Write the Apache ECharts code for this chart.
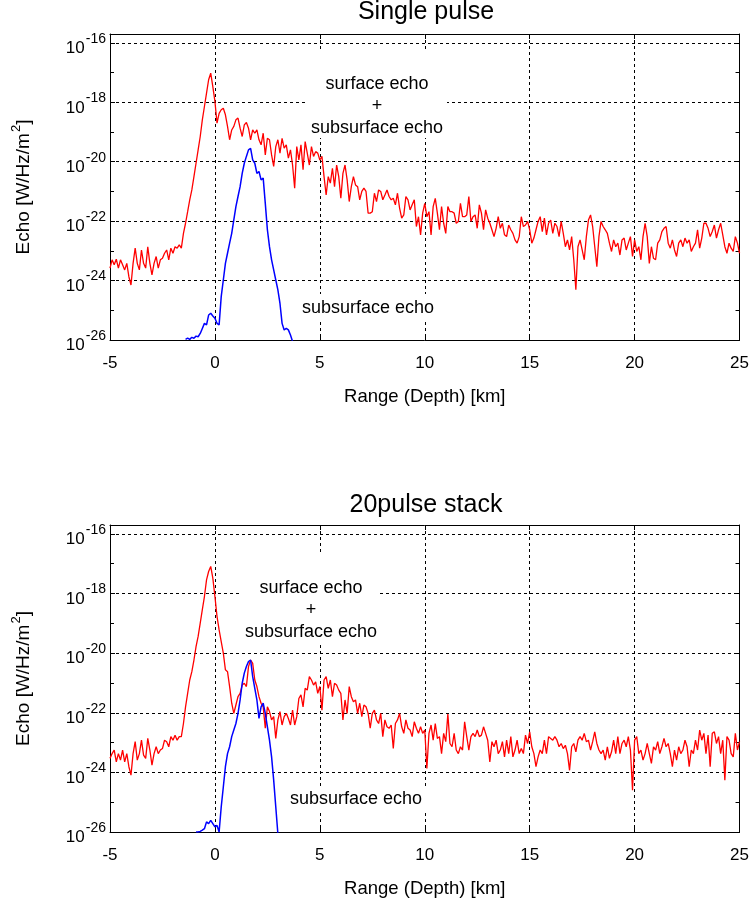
<!DOCTYPE html>
<html>
<head>
<meta charset="utf-8">
<script src="https://cdn.jsdelivr.net/npm/echarts@6/dist/echarts.min.js"></script>
<style>
html,body{margin:0;padding:0;background:#fff;}
#chart{width:752px;height:900px;}
</style>
</head>
<body>
<div id="chart"></div>
<script>
// Echo power, stored as log10 of W/Hz/m^2, sampled every 0.1 km of range
const stepKm = 0.1;
const redStartKm = -5.0;
const blue1StartKm = -1.4;
const blue2StartKm = -0.9;

const xTicks = [-5, 0, 5, 10, 15, 20, 25];
const yExpTicks = [-26, -24, -22, -20, -18, -16];

const titles = ['Single pulse', '20pulse stack'];
const xName = 'Range (Depth) [km]';

// Single pulse: surface + subsurface echo (red)
const singleTotal = [
-23.58,-23.30,-23.47,-23.28,-23.58,-23.30,-23.47,-23.64,-23.42,-23.87,
-24.15,-23.42,-22.91,-23.42,-23.64,-22.97,-23.42,-23.58,-22.86,-23.42,
-23.81,-23.42,-23.19,-23.58,-23.30,-23.25,-23.08,-22.97,-23.30,-22.91,
-23.08,-22.86,-22.91,-22.80,-22.91,-22.41,-22.07,-21.68,-21.28,-20.95,
-20.50,-20.05,-19.60,-19.15,-18.59,-18.14,-17.69,-17.24,-17.02,-17.47,
-17.97,-18.70,-18.37,-18.25,-18.20,-18.42,-18.81,-19.26,-18.93,-18.81,
-18.59,-18.53,-18.87,-19.15,-18.76,-18.68,-18.87,-19.26,-18.93,-19.04,
-18.93,-19.26,-19.43,-19.04,-19.77,-19.21,-19.26,-19.77,-20.16,-19.49,
-19.26,-19.71,-19.21,-19.54,-19.43,-19.88,-19.60,-20.11,-20.89,-19.49,
-19.94,-19.43,-20.27,-19.32,-19.71,-20.11,-19.49,-19.82,-19.66,-19.71,
-19.94,-19.82,-20.50,-21.12,-20.50,-20.72,-20.22,-20.84,-20.11,-20.50,
-21.23,-20.39,-20.11,-20.61,-21.34,-20.84,-20.50,-20.78,-20.84,-21.28,
-21.00,-20.89,-21.00,-21.73,-21.73,-21.68,-21.06,-21.34,-20.95,-21.00,
-21.28,-21.12,-20.95,-21.17,-21.28,-21.23,-21.45,-21.06,-21.56,-21.90,
-21.79,-21.17,-21.28,-21.62,-21.45,-21.28,-22.18,-21.85,-22.46,-21.73,
-21.40,-21.85,-21.68,-22.46,-21.51,-21.23,-21.73,-22.29,-21.51,-22.07,
-22.41,-21.51,-21.68,-21.68,-21.73,-22.07,-22.01,-21.40,-21.85,-21.85,
-21.79,-21.17,-22.01,-21.85,-21.79,-22.24,-21.45,-21.73,-22.29,-21.62,
-21.90,-22.07,-22.29,-22.52,-22.24,-21.85,-22.24,-22.07,-22.46,-22.52,
-22.13,-22.29,-22.41,-22.63,-22.74,-22.52,-21.85,-22.18,-22.13,-22.01,
-22.29,-22.74,-22.57,-22.29,-22.01,-21.85,-22.35,-21.90,-22.46,-22.07,
-21.96,-22.41,-22.07,-22.18,-22.52,-22.01,-22.41,-22.86,-22.63,-22.97,
-22.52,-23.30,-24.31,-22.86,-22.63,-22.97,-23.30,-22.52,-21.96,-21.79,
-22.18,-22.86,-23.53,-22.52,-22.01,-22.18,-22.29,-22.41,-22.74,-23.02,
-22.63,-22.86,-22.74,-23.14,-22.63,-22.57,-22.97,-22.74,-22.52,-23.19,
-22.63,-23.02,-22.86,-23.30,-22.52,-22.07,-22.52,-23.42,-22.86,-23.25,
-23.30,-22.74,-22.63,-22.35,-22.24,-22.18,-22.74,-22.91,-22.63,-22.97,
-23.19,-22.74,-22.63,-22.86,-22.57,-22.74,-22.63,-23.02,-22.86,-22.74,
-22.29,-22.91,-22.57,-22.07,-22.07,-22.24,-22.52,-22.35,-22.13,-22.57,
-22.29,-22.07,-22.46,-22.86,-23.08,-22.74,-22.91,-23.02,-22.52,-22.74,
-23.08
];

// Single pulse: subsurface echo (blue), from -1.4 km
const singleSub = [
-25.98,-25.94,-25.98,-25.91,-25.94,-25.87,-25.89,-25.78,-25.61,-25.44,
-25.49,-25.16,-25.10,-25.19,-25.27,-25.44,-25.49,-24.54,-23.98,-23.42,
-23.08,-22.74,-22.41,-21.96,-21.51,-21.17,-20.84,-20.39,-20.05,-19.82,
-19.60,-19.55,-19.94,-20.05,-20.39,-20.33,-20.61,-20.55,-21.40,-22.29,
-22.86,-23.30,-23.64,-23.98,-24.31,-24.77,-25.44,-25.66,-25.61,-25.66,
-25.83,-26.05
];

// 20 pulse stack: surface + subsurface echo (red)
const stackTotal = [
-23.53,-23.37,-23.25,-23.65,-23.37,-23.59,-23.25,-23.65,-23.37,-23.81,
-24.09,-23.37,-22.97,-23.59,-23.37,-22.92,-23.42,-23.53,-22.86,-23.25,
-23.76,-23.37,-23.14,-23.37,-23.25,-23.20,-22.92,-22.97,-23.14,-22.80,
-22.92,-22.75,-22.92,-22.80,-22.80,-22.36,-21.80,-21.35,-20.90,-20.62,
-20.23,-19.78,-19.44,-18.99,-18.54,-18.10,-17.54,-17.26,-17.09,-17.48,
-18.10,-18.77,-19.22,-19.61,-20.00,-20.56,-20.62,-21.12,-21.68,-22.02,
-21.74,-21.46,-21.35,-21.07,-21.01,-21.12,-20.45,-20.23,-20.34,-20.90,
-21.12,-21.46,-21.68,-21.80,-22.52,-21.80,-21.96,-22.24,-22.13,-22.86,
-22.24,-21.96,-22.41,-22.13,-22.02,-22.19,-22.41,-21.91,-22.41,-22.13,
-21.52,-21.40,-21.80,-21.18,-21.24,-20.79,-20.90,-21.07,-20.96,-21.35,
-21.12,-21.91,-20.90,-20.79,-21.18,-20.90,-21.46,-21.01,-21.07,-21.24,
-21.35,-22.24,-21.57,-22.02,-21.12,-21.46,-21.63,-21.57,-22.02,-21.68,
-22.13,-21.74,-21.80,-22.02,-22.52,-22.02,-21.91,-22.24,-22.36,-22.02,
-22.80,-22.24,-22.47,-22.52,-22.41,-23.20,-22.36,-22.24,-22.02,-22.47,
-22.69,-22.24,-22.52,-22.58,-22.80,-22.30,-22.52,-22.69,-22.47,-22.69,
-22.58,-23.87,-22.69,-22.41,-22.92,-22.36,-22.86,-22.80,-23.37,-22.69,
-22.97,-22.04,-23.03,-23.14,-22.69,-23.25,-23.37,-23.14,-23.25,-22.30,
-22.80,-23.25,-22.80,-22.69,-22.80,-22.58,-22.80,-22.75,-22.47,-22.69,
-22.92,-23.65,-22.97,-23.14,-22.92,-23.37,-23.25,-22.97,-23.48,-22.92,
-23.37,-22.80,-23.48,-23.25,-22.92,-23.37,-23.20,-23.37,-22.75,-23.03,
-22.64,-23.14,-23.37,-23.81,-23.48,-23.25,-23.37,-22.92,-23.37,-22.80,
-22.86,-22.92,-22.80,-22.92,-23.14,-23.03,-23.20,-23.09,-23.37,-23.93,
-23.14,-23.03,-23.31,-22.92,-22.80,-22.92,-22.69,-22.97,-22.92,-23.25,
-22.97,-22.64,-23.03,-23.25,-23.37,-23.25,-23.59,-23.14,-23.53,-23.31,
-22.92,-23.37,-22.80,-23.37,-23.03,-22.92,-23.14,-22.80,-23.25,-24.60,
-22.92,-22.80,-23.37,-23.25,-23.59,-23.37,-23.03,-23.37,-23.70,-23.14,
-23.25,-22.97,-23.37,-23.14,-22.86,-23.14,-23.03,-23.37,-23.81,-23.25,
-23.59,-23.14,-23.37,-23.25,-22.92,-23.14,-23.81,-23.25,-23.37,-22.92,
-23.25,-22.58,-22.92,-22.69,-23.37,-22.75,-23.81,-22.69,-22.64,-23.03,
-22.80,-23.37,-22.92,-24.26,-22.80,-22.92,-23.37,-23.48,-22.69,-23.25,
-22.97
];

// 20 pulse stack: subsurface echo (blue), from -0.9 km
const stackSub = [
-26.00,-26.00,-25.98,-25.94,-25.89,-25.66,-25.72,-25.61,-25.72,-25.83,
-25.78,-26.00,-25.16,-24.49,-23.81,-23.37,-23.14,-22.80,-22.58,-22.36,
-22.02,-21.57,-21.01,-20.67,-20.45,-20.28,-20.23,-20.79,-21.18,-21.57,
-22.19,-21.80,-21.68,-22.02,-22.47,-22.92,-23.48,-24.26,-25.16,-26.06
];

function pairs(startKm, values) {
  return values.map((v, i) => [Math.round((startKm + i * stepKm) * 100) / 100, v]);
}

const FONT = '"Liberation Sans", Arial, Helvetica, sans-serif';
const chart = echarts.init(document.getElementById('chart'), null, {renderer: 'canvas'});

const yMin = yExpTicks[0];
const yMax = -15.7;
const xMin = xTicks[0], xMax = xTicks[xTicks.length - 1];

function xAxesFor(gridIndex) {
  return [
    {
      type: 'value', gridIndex, position: 'bottom', min: xMin, max: xMax, interval: 5,
      name: xName, nameLocation: 'middle', nameGap: 47,
      nameTextStyle: {fontFamily: FONT, fontSize: 18.5, color: '#000'},
      axisLine: {show: true, onZero: false, lineStyle: {color: '#000', width: 1}},
      axisTick: {show: true, inside: true, length: 5, lineStyle: {color: '#000'}},
      axisLabel: {show: true, margin: 15, fontFamily: FONT, fontSize: 17, color: '#000',
        formatter: v => String(v)},
      splitLine: {show: true, showMinLine: false, showMaxLine: false,
        lineStyle: {color: '#000', width: 1, type: [3, 3]}}
    },
    {
      type: 'value', gridIndex, position: 'top', min: xMin, max: xMax, interval: 5,
      axisLine: {show: true, onZero: false, lineStyle: {color: '#000', width: 1}},
      axisTick: {show: true, inside: true, length: 5, lineStyle: {color: '#000'}},
      axisLabel: {show: false},
      splitLine: {show: false}
    }
  ];
}

function yAxesFor(gridIndex) {
  return [
    {
      type: 'value', gridIndex, position: 'left', min: yMin, max: yMax, interval: 2,
      name: '{a|Echo [W/Hz/m}{s|2}{a|]}', nameLocation: 'middle', nameRotate: 90, nameGap: 77,
      nameTextStyle: {
        color: '#000',
        rich: {
          a: {fontFamily: FONT, fontSize: 19, color: '#000', lineHeight: 24, verticalAlign: 'bottom'},
          s: {fontFamily: FONT, fontSize: 13, color: '#000', verticalAlign: 'top', padding: [1, 0, 0, 1]}
        }
      },
      axisLine: {show: true, onZero: false, lineStyle: {color: '#000', width: 1}},
      axisTick: {show: true, inside: true, length: 5, lineStyle: {color: '#000'}},
      axisLabel: {
        show: true, margin: 4, color: '#000',
        formatter: v => (Number.isInteger(v) && v % 2 === 0) ? '{b|10}{e|' + v + '}' : '',
        rich: {
          b: {fontFamily: FONT, fontSize: 17, color: '#000', lineHeight: 28, verticalAlign: 'bottom'},
          e: {fontFamily: FONT, fontSize: 14, color: '#000', verticalAlign: 'top', padding: [3, 0, 0, 1]}
        }
      },
      splitLine: {show: true, showMinLine: false, showMaxLine: false,
        lineStyle: {color: '#000', width: 1, type: [3, 3]}}
    },
    {
      type: 'value', gridIndex, position: 'left', min: yMin, max: yMax, interval: 1,
      axisLine: {show: false, onZero: false},
      axisTick: {show: true, inside: true, length: 4, lineStyle: {color: '#000'}},
      axisLabel: {show: false},
      splitLine: {show: false}
    },
    {
      type: 'value', gridIndex, position: 'right', min: yMin, max: yMax, interval: 1,
      axisLine: {show: true, onZero: false, lineStyle: {color: '#000', width: 1}},
      axisTick: {show: true, inside: true, length: 4, lineStyle: {color: '#000'}},
      axisLabel: {show: false},
      splitLine: {show: false}
    }
  ];
}

function lineSeries(data, color, width, xAxisIndex, yAxisIndex, name) {
  return {
    type: 'line', name, data, xAxisIndex, yAxisIndex,
    showSymbol: false, symbol: 'none', smooth: false, clip: true,
    lineStyle: {color, width}, itemStyle: {color},
    emphasis: {disabled: true}, z: 3
  };
}

function label(text, x, y) {
  return {
    type: 'text', z: 2, silent: true,
    style: {text, x, y, fill: '#000', font: '18px ' + FONT,
      align: 'center', verticalAlign: 'middle', textAlign: 'center', textVerticalAlign: 'middle'}
  };
}
function whiteBox(x, y, w, h) {
  return {type: 'rect', z: 1, silent: true, shape: {x, y, width: w, height: h},
    style: {fill: '#fff', stroke: null}};
}
function title(text, x, y) {
  return {
    type: 'text', z: 2, silent: true,
    style: {text, x, y, fill: '#000', font: '25px ' + FONT,
      align: 'center', verticalAlign: 'middle', textAlign: 'center', textVerticalAlign: 'middle'}
  };
}

const option = {
  animation: false,
  backgroundColor: '#fff',
  grid: [
    {left: 110, top: 34, width: 632, height: 306, containLabel: false},
    {left: 110, top: 525, width: 632, height: 307, containLabel: false}
  ],
  xAxis: [...xAxesFor(0), ...xAxesFor(1)],
  yAxis: [...yAxesFor(0), ...yAxesFor(1)],
  series: [
    lineSeries(pairs(redStartKm, singleTotal), '#ff0000', 1.3, 0, 0, 'surface + subsurface (single)'),
    lineSeries(pairs(blue1StartKm, singleSub), '#0000ff', 1.5, 0, 0, 'subsurface (single)'),
    lineSeries(pairs(redStartKm, stackTotal), '#ff0000', 1.3, 2, 3, 'surface + subsurface (stack)'),
    lineSeries(pairs(blue2StartKm, stackSub), '#0000ff', 1.5, 2, 3, 'subsurface (stack)')
  ],
  graphic: {
    elements: [
      title(titles[0], 426, 12),
      title(titles[1], 426, 505),
      whiteBox(308, 50, 139, 88),
      label('surface echo', 377, 84),
      label('+', 377, 106),
      label('subsurface echo', 377, 128),
      whiteBox(296, 294, 144, 27),
      label('subsurface echo', 368, 308),
      whiteBox(242, 555, 138, 88),
      label('surface echo', 311, 588),
      label('+', 311, 610),
      label('subsurface echo', 311, 632),
      whiteBox(284, 786, 144, 27),
      label('subsurface echo', 356, 799)
    ]
  }
};
chart.setOption(option);
</script>
</body>
</html>
